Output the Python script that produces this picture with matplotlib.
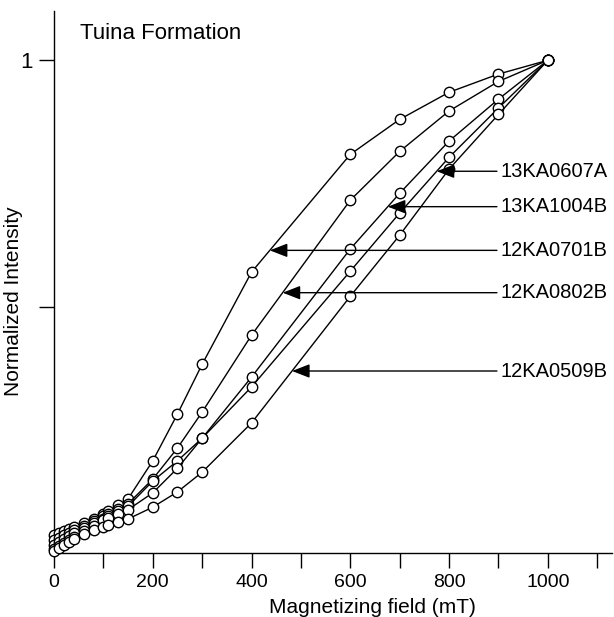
import numpy as np
import matplotlib
matplotlib.use("Agg")
import matplotlib.pyplot as plt

plt.rcParams['font.family'] = ['Liberation Sans', 'DejaVu Sans']

# IRM acquisition steps (mT)
fields = [0, 10, 20, 30, 40, 60, 80, 100, 110, 130, 150, 200, 250, 300, 400,
          600, 700, 800, 900, 1000]

# Normalized IRM intensity for each specimen
irm_12KA0701B = [0.037, 0.040, 0.044, 0.048, 0.052, 0.060, 0.068, 0.080, 0.086, 0.097,
                 0.110, 0.187, 0.282, 0.383, 0.570, 0.809, 0.880, 0.935, 0.972, 1.000]
irm_12KA0802B = [0.027, 0.031, 0.036, 0.041, 0.046, 0.055, 0.064, 0.075, 0.080, 0.090,
                 0.100, 0.150, 0.213, 0.286, 0.442, 0.716, 0.815, 0.897, 0.957, 1.000]
irm_13KA1004B = [0.017, 0.022, 0.028, 0.034, 0.040, 0.050, 0.060, 0.070, 0.075, 0.085,
                 0.095, 0.146, 0.187, 0.233, 0.357, 0.617, 0.730, 0.836, 0.921, 1.000]
irm_13KA0607A = [0.008, 0.014, 0.020, 0.027, 0.033, 0.044, 0.055, 0.066, 0.071, 0.080,
                 0.088, 0.122, 0.172, 0.233, 0.337, 0.572, 0.690, 0.803, 0.903, 1.000]
irm_12KA0509B = [0.004, 0.010, 0.016, 0.022, 0.028, 0.038, 0.046, 0.053, 0.056, 0.062,
                 0.069, 0.093, 0.124, 0.164, 0.264, 0.521, 0.645, 0.779, 0.890, 1.000]

specimens = ["12KA0701B", "12KA0802B", "13KA1004B", "13KA0607A", "12KA0509B"]
curves = [irm_12KA0701B, irm_12KA0802B, irm_13KA1004B, irm_13KA0607A, irm_12KA0509B]
# field (mT) at which each label's arrow meets its curve
arrow_fields = [437, 463, 676, 775, 482]

x_ticks = list(range(0, 1101, 100))
x_ticklabels = [str(v) if v % 200 == 0 else "" for v in x_ticks]
y_ticks = [0.5, 1.0]
y_ticklabels = ["", "1"]

fig = plt.figure(figsize=(6.14, 6.17), dpi=100)
ax = fig.add_axes([54 / 614, 64 / 617, 558 / 614, 542 / 617])

for vals in curves:
    ax.plot(fields, vals, color="black", lw=1.0, marker="o", ms=7.5,
            mfc="white", mec="black", mew=1.0, clip_on=False, zorder=3)

label_x = 905
line_start = 897
for name, vals, fx in zip(specimens, curves, arrow_fields):
    fy = float(np.interp(fx, fields, vals))
    ax.annotate("", xy=(fx, fy), xytext=(line_start, fy),
                arrowprops=dict(arrowstyle="-|>,head_length=0.9,head_width=0.35",
                                color="black", lw=1.0, shrinkA=0, shrinkB=0,
                                mutation_scale=12),
                zorder=4)
    ax.text(label_x, fy, name, fontsize=14.5, va="center", ha="left")

ax.set_xlim(0, 1130)
ax.set_ylim(0, 1.1)
ax.set_xticks(x_ticks)
ax.set_xticklabels(x_ticklabels, fontsize=14)
ax.set_yticks(y_ticks)
ax.set_yticklabels(y_ticklabels, fontsize=16)
ax.tick_params(axis="both", direction="out", length=11, width=1.0, pad=4)

for side in ("top", "right"):
    ax.spines[side].set_visible(False)
for side in ("left", "bottom"):
    ax.spines[side].set_linewidth(1.0)

ax.set_xlabel("Magnetizing field (mT)", fontsize=15)
ax.xaxis.set_label_coords(0.57, -0.083)
ax.set_ylabel("Normalized Intensity", fontsize=15)
ax.yaxis.set_label_coords(-0.056, 0.465)

ax.text(52, 1.043, "Tuina Formation", fontsize=16, va="baseline", ha="left")

fig.savefig("out.png", dpi=100)
